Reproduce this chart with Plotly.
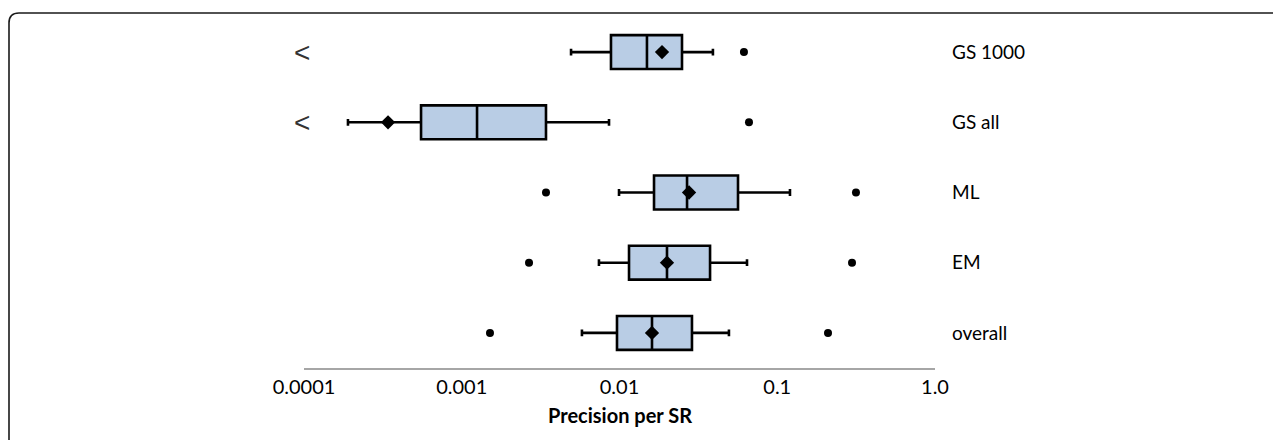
import plotly.graph_objects as go

# ---- data ----
categories = ["GS 1000", "GS all", "ML", "EM", "overall"]
lower_whisker = [0.00493, 0.000190, 0.00993, 0.00741, 0.00578]
q1 = [0.00883, 0.000552, 0.01655, 0.01149, 0.00964]
median = [0.01493, 0.00125, 0.0268, 0.0200, 0.01607]
q3 = [0.0249, 0.00342, 0.0564, 0.0375, 0.0288]
upper_whisker = [0.0391, 0.00858, 0.1204, 0.0643, 0.0494]
mean = [0.0186, 0.000341, 0.0276, 0.0200, 0.01607]
outlier_low = [None, None, 0.00342, 0.00267, 0.00151]
outlier_high = [0.0615, 0.0662, 0.3155, 0.2978, 0.2098]
truncated = [True, True, False, False, False]
tick_vals = [0.0001, 0.001, 0.01, 0.1, 1.0]
tick_text = ["0.0001", "0.001", "0.01", "0.1", "1.0"]
x_title = "Precision per SR"

FONT = "Lato"
OFF = 8  # page body margin
W, H = 1281 - OFF, 440 - OFF
L, T = 304 - OFF, 17 - OFF
pw, ph = 631, 351
R = W - L - pw
B = H - T - ph

fig = go.Figure()

for i, c in enumerate(categories):
    fig.add_trace(go.Box(
        y=[c], orientation="h",
        q1=[q1[i]], median=[median[i]], q3=[q3[i]],
        lowerfence=[lower_whisker[i]], upperfence=[upper_whisker[i]],
        fillcolor="#B9CDE5", line=dict(color="black", width=2.6),
        whiskerwidth=0.2, boxpoints=False, showlegend=False, hoverinfo="skip",
    ))

# means (diamonds)
fig.add_trace(go.Scatter(
    x=mean, y=categories, mode="markers",
    marker=dict(symbol="diamond", size=11, color="black"),
    showlegend=False, hoverinfo="skip"))

# outliers
ox, oy = [], []
for i, c in enumerate(categories):
    for v in (outlier_low[i], outlier_high[i]):
        if v is not None:
            ox.append(v)
            oy.append(c)
fig.add_trace(go.Scatter(
    x=ox, y=oy, mode="markers",
    marker=dict(symbol="circle", size=8, color="black"),
    showlegend=False, hoverinfo="skip"))


def px(x):
    return (x - OFF - L) / pw


def py(y):
    return (T + ph - (y - OFF)) / ph


# "<" markers for truncated lower values
for i, c in enumerate(categories):
    if truncated[i]:
        fig.add_annotation(x=px(302), y=c, xref="paper", yref="y", text="<",
                           showarrow=False, xanchor="center", yanchor="middle",
                           font=dict(family="Liberation Sans", size=28, color="#333333"))

# axis title
fig.add_annotation(x=0.5, y=py(415), xref="paper", yref="paper",
                   text="<b>" + x_title + "</b>", showarrow=False,
                   xanchor="center", yanchor="middle",
                   font=dict(family=FONT, size=20, color="black"))

# outer rounded frame
r = 10
path = (f"M {px(9)} {py(470)} L {px(9)} {py(13 + r)} "
        f"Q {px(9)} {py(13)} {px(9 + r)} {py(13)} L {px(1320)} {py(13)}")
fig.add_shape(type="path", path=path, xref="paper", yref="paper",
              line=dict(color="#1a1a1a", width=1.6))

fig.update_layout(
    width=W, height=H,
    margin=dict(l=L, r=R, t=T, b=B, pad=0),
    paper_bgcolor="white", plot_bgcolor="white",
    boxgap=0.31, boxmode="overlay",
    font=dict(family=FONT, size=20, color="black"),
    xaxis=dict(type="log", range=[-4, 0], tickvals=tick_vals, ticktext=tick_text,
               showgrid=False, zeroline=False, showline=True,
               linecolor="#A6A6A6", linewidth=1.5, ticks="",
               tickfont=dict(family=FONT, size=20, color="black")),
    yaxis=dict(type="category", categoryorder="array",
               categoryarray=categories[::-1], range=[-0.5, 4.5],
               side="right", showgrid=False, zeroline=False, showline=False,
               ticks="", ticklabelstandoff=16,
               tickfont=dict(family=FONT, size=19, color="black")),
)

fig.write_html("out.html")
